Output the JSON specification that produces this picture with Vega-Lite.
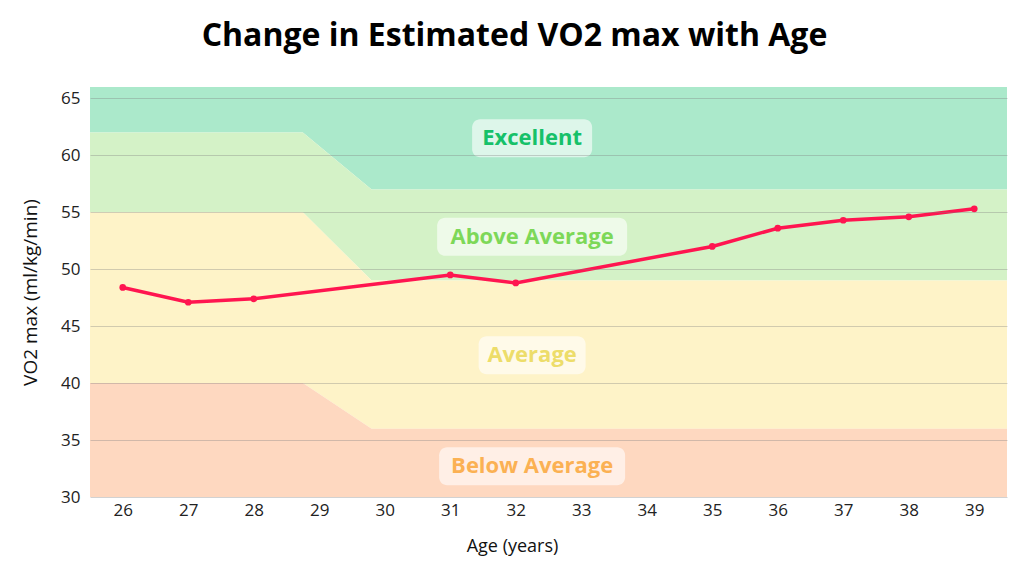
{
  "$schema": "https://vega.github.io/schema/vega-lite/v6.json",
  "autosize": {"type": "none"},
  "padding": {"left": 90, "top": 87, "right": 17, "bottom": 79},
  "width": 917,
  "height": 410,
  "background": "white",
  "title": {
    "text": "Change in Estimated VO2 max with Age",
    "font": "Open Sans",
    "fontSize": 32,
    "fontWeight": "bold",
    "color": "#000000",
    "anchor": "middle",
    "dx": -34,
    "baseline": "alphabetic",
    "offset": 9
  },
  "config": {
    "font": "Open Sans",
    "view": {"stroke": null},
    "axis": {"labelFont": "Open Sans", "titleFont": "Open Sans"}
  },
  "datasets": {
    "bands": [
      {"band": "Excellent", "age": 25.5, "lo": 62, "hi": 66},
      {"band": "Excellent", "age": 28.75, "lo": 62, "hi": 66},
      {"band": "Excellent", "age": 29.8, "lo": 57, "hi": 66},
      {"band": "Excellent", "age": 39.5, "lo": 57, "hi": 66},
      {"band": "Above Average", "age": 25.5, "lo": 55, "hi": 62},
      {"band": "Above Average", "age": 28.75, "lo": 55, "hi": 62},
      {"band": "Above Average", "age": 29.8, "lo": 49, "hi": 57},
      {"band": "Above Average", "age": 39.5, "lo": 49, "hi": 57},
      {"band": "Average", "age": 25.5, "lo": 40, "hi": 55},
      {"band": "Average", "age": 28.75, "lo": 40, "hi": 55},
      {"band": "Average", "age": 29.8, "lo": 36, "hi": 49},
      {"band": "Average", "age": 39.5, "lo": 36, "hi": 49},
      {"band": "Below Average", "age": 25.5, "lo": 30, "hi": 40},
      {"band": "Below Average", "age": 28.75, "lo": 30, "hi": 40},
      {"band": "Below Average", "age": 29.8, "lo": 30, "hi": 36},
      {"band": "Below Average", "age": 39.5, "lo": 30, "hi": 36}
    ],
    "vo2": [
      {"age": 26, "vo2": 48.4},
      {"age": 27, "vo2": 47.1},
      {"age": 28, "vo2": 47.4},
      {"age": 31, "vo2": 49.5},
      {"age": 32, "vo2": 48.8},
      {"age": 35, "vo2": 52.0},
      {"age": 36, "vo2": 53.6},
      {"age": 37, "vo2": 54.3},
      {"age": 38, "vo2": 54.6},
      {"age": 39, "vo2": 55.3}
    ],
    "labels": [
      {"band": "Excellent", "age": 32.25, "value": 61.5},
      {"band": "Above Average", "age": 32.25, "value": 52.85},
      {"band": "Average", "age": 32.25, "value": 42.45},
      {"band": "Below Average", "age": 32.25, "value": 32.7}
    ]
  },
  "encoding": {
    "x": {
      "field": "age",
      "type": "quantitative",
      "scale": {"domain": [25.5, 39.5], "nice": false, "zero": false},
      "axis": {
        "values": [26, 27, 28, 29, 30, 31, 32, 33, 34, 35, 36, 37, 38, 39],
        "grid": false,
        "domain": false,
        "ticks": false,
        "labelFontSize": 17,
        "labelColor": "#222222",
        "labelPadding": 5,
        "title": "Age (years)",
        "titleFontSize": 18,
        "titleFontWeight": "normal",
        "titleColor": "#111111",
        "titleX": 422,
        "titlePadding": 19
      }
    }
  },
  "layer": [
    {
      "data": {"name": "bands"},
      "mark": {"type": "area", "opacity": 1},
      "encoding": {
        "y": {
          "field": "hi",
          "type": "quantitative",
          "scale": {"domain": [30, 66], "nice": false, "zero": false},
          "axis": {
            "values": [30, 35, 40, 45, 50, 55, 60, 65],
            "grid": true,
            "gridColor": "#7d7d7d",
            "gridOpacity": 0.35,
            "gridWidth": 1,
            "zindex": 1,
            "domain": false,
            "ticks": false,
            "labelFontSize": 17,
            "labelColor": "#222222",
            "labelPadding": 10,
            "title": "VO2 max (ml/kg/min)",
            "titleFontSize": 19,
            "titleFontWeight": "normal",
            "titleColor": "#111111",
            "titlePadding": 20
          }
        },
        "y2": {"field": "lo"},
        "fill": {
          "field": "band",
          "type": "nominal",
          "scale": {
            "domain": ["Excellent", "Above Average", "Average", "Below Average"],
            "range": ["#abe9cb", "#d4f2c7", "#fef3c8", "#fed8c0"]
          },
          "legend": null
        }
      }
    },
    {
      "data": {"name": "vo2"},
      "mark": {"type": "line", "color": "#ff1550", "strokeWidth": 3.5},
      "encoding": {
        "y": {"field": "vo2", "type": "quantitative"}
      }
    },
    {
      "data": {"name": "vo2"},
      "mark": {"type": "point", "filled": true, "color": "#ff1550", "size": 45, "opacity": 1},
      "encoding": {
        "y": {"field": "vo2", "type": "quantitative"}
      }
    },
    {
      "data": {"name": "labels"},
      "mark": {
        "type": "rect",
        "fill": "white",
        "opacity": 0.6,
        "cornerRadius": 8,
        "height": 38,
        "width": {"expr": "{'Excellent': 120, 'Above Average': 190, 'Average': 107, 'Below Average': 186}[datum.band]"}
      },
      "encoding": {
        "y": {"field": "value", "type": "quantitative"}
      }
    },
    {
      "data": {"name": "labels"},
      "mark": {
        "type": "text",
        "font": "Open Sans",
        "fontSize": 22,
        "fontWeight": "bold",
        "align": "center",
        "baseline": "middle",
        "fill": {"expr": "{'Excellent': '#16c169', 'Above Average': '#7dd858', 'Average': '#eddd6a', 'Below Average': '#fbb153'}[datum.band]"}
      },
      "encoding": {
        "y": {"field": "value", "type": "quantitative"},
        "text": {"field": "band", "type": "nominal"}
      }
    }
  ]
}
